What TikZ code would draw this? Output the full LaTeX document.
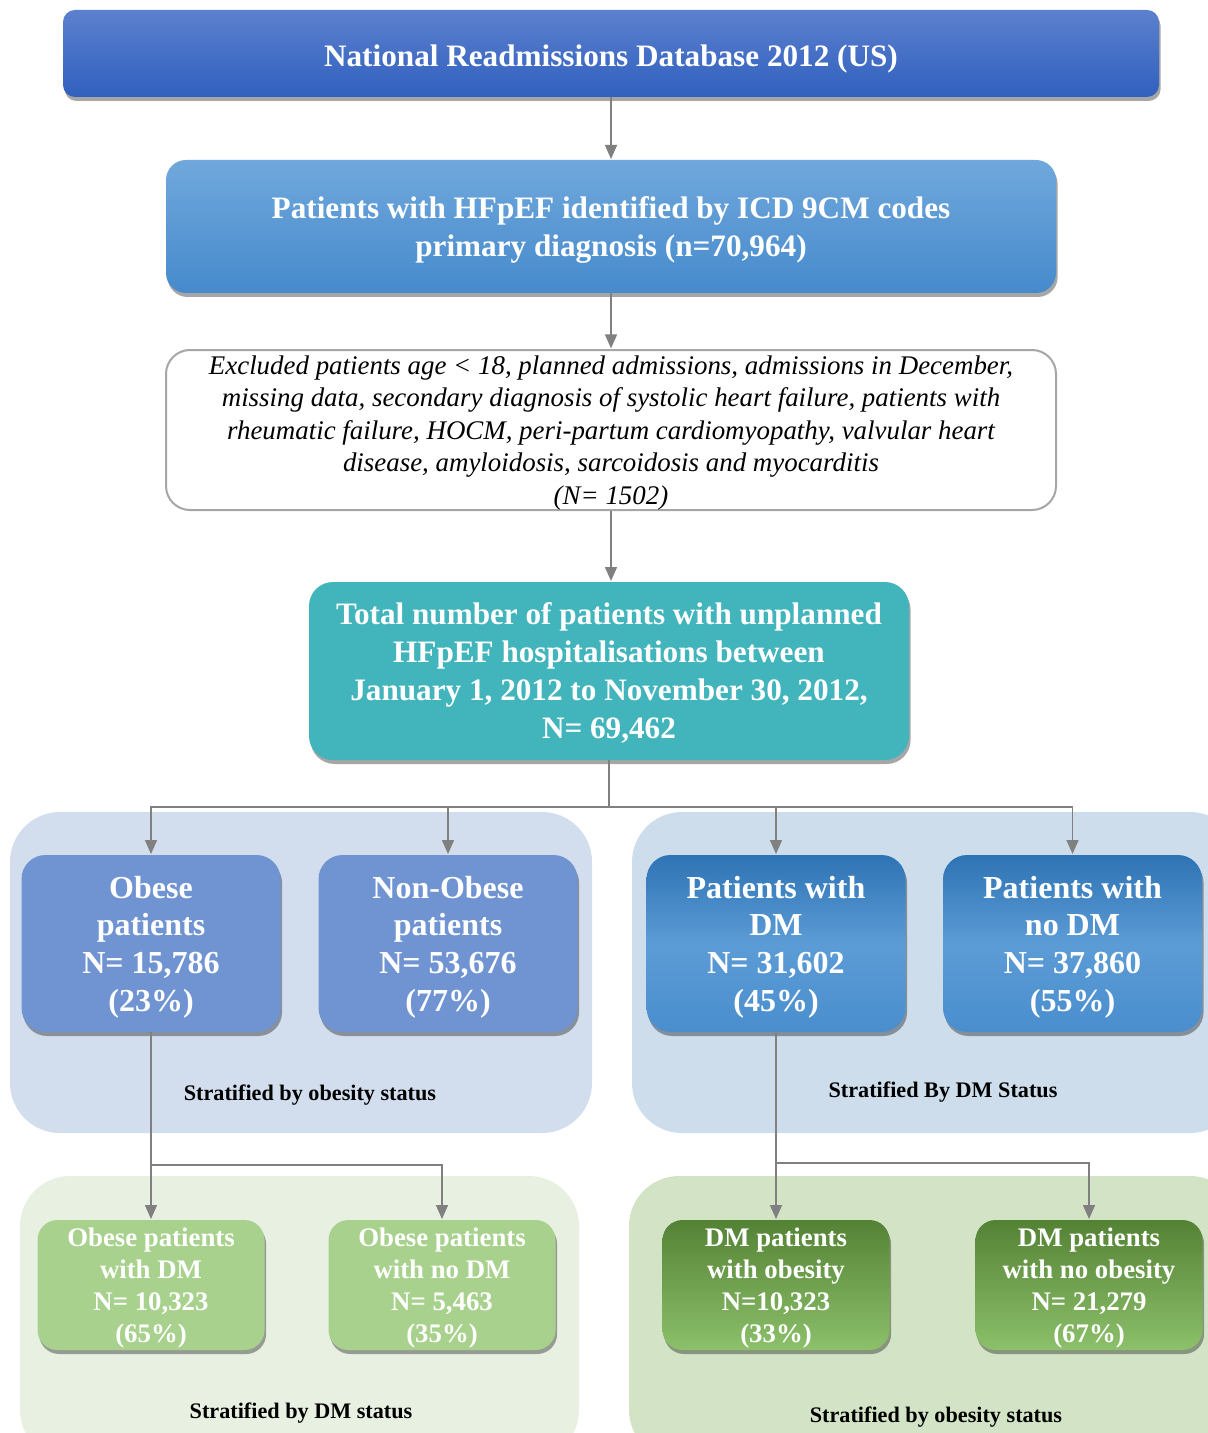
\documentclass[tikz,border=0pt]{standalone}
\usepackage{fontspec}
\setmainfont{Liberation Serif}
\usetikzlibrary{arrows.meta,shadows,positioning}
\pgfdeclarelayer{background layer}
\pgfsetlayers{background layer,main}
\definecolor{titletop}{RGB}{92,128,206}
\definecolor{titlebot}{RGB}{48,96,190}
\definecolor{hftop}{RGB}{112,168,220}
\definecolor{hfbot}{RGB}{70,138,204}
\definecolor{teal}{RGB}{66,180,188}
\definecolor{obblue}{RGB}{112,148,210}
\definecolor{dmtop}{RGB}{46,115,180}
\definecolor{dmmid}{RGB}{92,156,214}
\definecolor{dmbot}{RGB}{74,142,206}
\definecolor{panelblue}{RGB}{210,222,238}
\definecolor{panelblue2}{RGB}{205,221,236}
\definecolor{panelgreen}{RGB}{232,240,226}
\definecolor{panelgreen2}{RGB}{211,228,198}
\definecolor{lightgreen}{RGB}{169,209,142}
\definecolor{dgtop}{RGB}{84,130,53}
\definecolor{dgbot}{RGB}{140,192,106}
\definecolor{linegray}{RGB}{128,128,128}
\definecolor{bordergray}{RGB}{166,166,166}
\newcommand{\fsbig}{\fontsize{15.6}{19}\selectfont}
\newcommand{\fsmid}{\fontsize{16}{18.8}\selectfont}
\newcommand{\fssmall}{\fontsize{13.4}{16}\selectfont}
\newcommand{\fsnote}{\fontsize{13.45}{16.2}\selectfont}
\newcommand{\fslabel}{\fontsize{11.1}{13}\selectfont}
% taller first line, pushes the text down a little
\newcommand{\toppad}[1]{\rule{0pt}{\dimexpr0.69em+#1\relax}}

\begin{document}
\begin{tikzpicture}[x=0.5pt,y=-0.5pt]
\tikzstyle{box}=[rounded corners=6pt,align=center,text=white,font=\bfseries,inner sep=0pt,
  text depth=0pt,execute at begin node={\toppad{2pt}},
  drop shadow={shadow xshift=0.8pt,shadow yshift=-2pt,opacity=0.35,fill=black}]
\tikzstyle{midbox}=[box,rounded corners=12pt,minimum width=129.5pt,minimum height=88.5pt,font=\bfseries\fsmid]
\tikzstyle{smallbox}=[box,rounded corners=10pt,minimum width=113.5pt,minimum height=65pt,font=\bfseries\fssmall]
\tikzstyle{panel}=[rounded corners=25pt,inner sep=0pt]
\tikzstyle{panellabel}=[font=\bfseries\fslabel,inner sep=0pt]
\tikzstyle{conn}=[draw=linegray,line width=0.75pt]
\tikzstyle{connarrow}=[conn,-{Triangle[length=7pt,width=6pt]},shorten >=0.3pt]
\useasboundingbox (0,0) rectangle (1208,1433);
\clip (0,0) rectangle (1208,1433);

% top of the chart
\node [box,top color=titletop,bottom color=titlebot,minimum width=548pt,minimum height=43.5pt,font=\bfseries\fsbig] at (611,53.5) (title) {National Readmissions Database 2012 (US)};
\node [box,top color=hftop,bottom color=hfbot,rounded corners=10pt,minimum width=445pt,minimum height=66.5pt,font=\bfseries\fsbig] at (611,226.5) (hfpef) {Patients with HFpEF identified by ICD 9CM codes\\primary diagnosis (n=70,964)};
\node [draw=bordergray,line width=1pt,fill=white,rounded corners=12pt,minimum width=445pt,minimum height=80pt,inner sep=0pt,align=center,text depth=0pt,execute at begin node={\toppad{1pt}},font=\itshape\fsnote] at (611,430) (excl) {Excluded patients age < 18, planned admissions, admissions in December,\\missing data, secondary diagnosis of systolic heart failure, patients with\\rheumatic failure, HOCM, peri-partum cardiomyopathy, valvular heart\\disease, amyloidosis, sarcoidosis and myocarditis\\(N= 1502)};
\node [box,fill=teal,rounded corners=12pt,minimum width=300pt,minimum height=89pt,font=\bfseries\fsbig] at (609,671) (total) {Total number of patients with unplanned\\HFpEF hospitalisations between\\January 1, 2012 to November 30, 2012,\\N= 69,462};

% first split
\node [midbox,fill=obblue] at (151,943.5) (obese) {Obese\\patients\\N= 15,786\\(23\%)};
\node [midbox,fill=obblue] at (448,943.5) (nonobese) {Non-Obese\\patients\\N= 53,676\\(77\%)};
\node [midbox,top color=dmtop,bottom color=dmbot,middle color=dmmid] at (776,943.5) (dm) {Patients with\\DM\\N= 31,602\\(45\%)};
\node [midbox,top color=dmtop,bottom color=dmbot,middle color=dmmid] at (1072.5,943.5) (nodm) {Patients with\\no DM\\N= 37,860\\(55\%)};

% second split
\node [smallbox,fill=lightgreen] at (151,1285) (obdm) {Obese patients\\with DM\\N= 10,323\\(65\%)};
\node [smallbox,fill=lightgreen] at (442,1285) (obnodm) {Obese patients\\with no DM\\N= 5,463\\(35\%)};
\node [smallbox,top color=dgtop,bottom color=dgbot] at (776,1285) (dmob) {DM patients\\with obesity\\N=10,323\\(33\%)};
\node [smallbox,top color=dgtop,bottom color=dgbot] at (1089,1285) (dmnoob) {DM patients\\with no obesity\\N= 21,279\\(67\%)};

\node [panellabel] at (310,1095) (oblabel) {Stratified by obesity status};
\node [panellabel] at (943,1092) (dmlabel) {Stratified By DM Status};
\node [panellabel] at (301,1413) (oblabel2) {Stratified by DM status};
\node [panellabel] at (936,1417) (dmlabel2) {Stratified by obesity status};

\begin{pgfonlayer}{background layer}
\node [panel,fill=panelblue,minimum width=291pt,minimum height=160.5pt] at (301,972.5) (obpanel) {};
\node [panel,fill=panelblue2,minimum width=304pt,minimum height=160.5pt] at (936,972.5) (dmpanel) {};
\node [panel,fill=panelgreen,minimum width=279.5pt,minimum height=142pt] at (299.5,1318) (obdmpanel) {};
\node [panel,fill=panelgreen2,minimum width=305.5pt,minimum height=142pt] at (934.5,1318) (dmobpanel) {};
\end{pgfonlayer}

\coordinate (split) at (609,807);
\coordinate (obsplit) at (151,1165);
\coordinate (dmsplit) at (776,1163);

\draw [connarrow] (title) -- (title |- hfpef.north);
\draw [connarrow] (hfpef) -- (hfpef |- excl.north);
\draw [connarrow] (excl.south) -- (excl.south |- total.north);
\draw [conn] (total) -- (split);
\foreach \n in {obese,nonobese,dm,nodm}
  \draw [connarrow] (split) -| (\n.north);
\draw [conn] (obese) -- (obsplit);
\draw [connarrow] (obsplit) -- (obdm);
\draw [connarrow] (obsplit) -| (obnodm.north);
\draw [conn] (dm) -- (dmsplit);
\draw [connarrow] (dmsplit) -- (dmob);
\draw [connarrow] (dmsplit) -| (dmnoob.north);
\end{tikzpicture}
\end{document}
